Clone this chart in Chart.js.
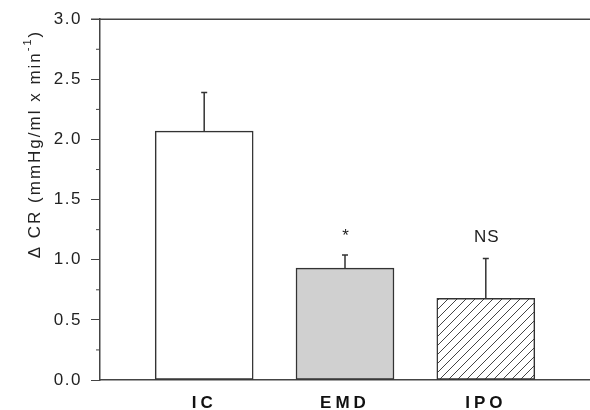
<!DOCTYPE html>
<html>
<head>
<meta charset="utf-8">
<script src="https://cdn.jsdelivr.net/npm/chart.js@4"></script>
<style>
html,body{margin:0;padding:0;background:#fff;}
#wrap{width:590px;height:410px;position:relative;}
</style>
</head>
<body>
<div id="wrap"><canvas id="c" width="590" height="410"></canvas></div>
<script>
const categories = ['IC', 'EMD', 'IPO'];
const means = [2.07, 0.93, 0.68];
const errorsUp = [0.32, 0.11, 0.33];
const marks = ['', '*', 'NS'];
const yTicks = [0, 0.5, 1.0, 1.5, 2.0, 2.5, 3.0];
const yMinorTicks = [0.25, 0.75, 1.25, 1.75, 2.25, 2.75];

const FONT = 'Arial, "Liberation Sans", sans-serif';

function hatch() {
  const s = 9;
  const c = document.createElement('canvas');
  c.width = s; c.height = s;
  const g = c.getContext('2d');
  g.fillStyle = '#fff'; g.fillRect(0, 0, s, s);
  g.strokeStyle = '#444'; g.lineWidth = 1;
  g.beginPath();
  g.moveTo(-1, s + 1); g.lineTo(s + 1, -1);
  g.moveTo(-1 - s, s + 1); g.lineTo(1, -1);
  g.moveTo(s - 1, 2 * s + 1); g.lineTo(2 * s + 1, s - 1);
  g.stroke();
  return document.getElementById('c').getContext('2d').createPattern(c, 'repeat');
}

const fills = ['#ffffff', '#d0d0d0', hatch()];

const extras = {
  id: 'extras',
  beforeDraw(chart) {
    chart.ctx.letterSpacing = '1.5px';
  },
  afterDatasetsDraw(chart) {
    const ctx = chart.ctx;
    const xs = chart.scales.x, ys = chart.scales.y;
    const area = chart.chartArea;
    ctx.save();
    ctx.letterSpacing = '1px';
    // top frame line
    ctx.strokeStyle = '#444'; ctx.lineWidth = 1.5;
    ctx.beginPath(); ctx.moveTo(area.left - 9, area.top); ctx.lineTo(area.right, area.top); ctx.stroke();
    // minor ticks
    ctx.lineWidth = 1;
    yMinorTicks.forEach(v => {
      const y = ys.getPixelForValue(v);
      ctx.beginPath(); ctx.moveTo(area.left - 4, y); ctx.lineTo(area.left, y); ctx.stroke();
    });
    // error bars and marks
    ctx.strokeStyle = '#333'; ctx.lineWidth = 1.5;
    means.forEach((m, i) => {
      const x = xs.getPixelForValue(i + 1);
      const y0 = ys.getPixelForValue(m);
      const y1 = ys.getPixelForValue(m + errorsUp[i]);
      ctx.beginPath();
      ctx.moveTo(x, y0); ctx.lineTo(x, y1);
      ctx.moveTo(x - 3, y1); ctx.lineTo(x + 3, y1);
      ctx.stroke();
      if (marks[i]) {
        ctx.fillStyle = '#222';
        ctx.font = '17px ' + FONT;
        ctx.textAlign = 'center'; ctx.textBaseline = 'middle';
        ctx.fillText(marks[i], x + 1, y1 - (marks[i] === '*' ? 19 : 21));
      }
    });
    // y axis title
    ctx.letterSpacing = '2px';
    ctx.translate(35, 144);
    ctx.rotate(-Math.PI / 2);
    ctx.fillStyle = '#222';
    const main = 'Δ CR (mmHg/ml x min';
    ctx.font = '17px ' + FONT;
    const w1 = ctx.measureText(main).width;
    ctx.font = '11px ' + FONT;
    const w2 = ctx.measureText('-1').width;
    ctx.font = '17px ' + FONT;
    const w3 = ctx.measureText(')').width;
    let sx = -(w1 + w2 + w3) / 2;
    ctx.textAlign = 'left'; ctx.textBaseline = 'middle';
    ctx.fillText(main, sx, 0);
    ctx.font = '11px ' + FONT;
    ctx.fillText('-1', sx + w1, -7);
    ctx.font = '17px ' + FONT;
    ctx.fillText(')', sx + w1 + w2, 0);
    ctx.restore();
    // spacing for the category labels drawn after this hook
    ctx.letterSpacing = '4px';
  },
  afterDraw(chart) {
    chart.ctx.letterSpacing = '0px';
  }
};

new Chart(document.getElementById('c'), {
  type: 'bar',
  data: {
    datasets: [{
      data: means.map((v, i) => ({ x: i + 1, y: v })),
      backgroundColor: fills,
      borderColor: '#333',
      borderWidth: 1.5,
      borderSkipped: false,
      barThickness: 98
    }]
  },
  options: {
    responsive: false,
    animation: false,
    devicePixelRatio: 1,
    layout: { padding: { top: 18, right: 0, left: 0, bottom: 0 } },
    plugins: { legend: { display: false }, tooltip: { enabled: false } },
    scales: {
      x: {
        type: 'linear',
        offset: false,
        min: 0.26, max: 3.74,
        afterBuildTicks: s => { s.ticks = categories.map((c, i) => ({ value: i + 1 })); },
        afterFit: s => { s.height = 30; },
        grid: { display: false },
        border: { display: true, color: '#444', width: 1.5 },
        ticks: {
          z: 1,
          callback: v => categories[v - 1] || '',
          font: { family: FONT, size: 17, weight: 'bold' },
          color: '#111',
          padding: 5,
          maxRotation: 0,
          autoSkip: false
        }
      },
      y: {
        min: 0, max: 3,
        afterBuildTicks: s => { s.ticks = yTicks.map(v => ({ value: v })); },
        afterFit: s => { s.width = 100; },
        grid: { display: true, drawOnChartArea: false, drawTicks: true, tickLength: 9, color: '#444', lineWidth: 1 },
        border: { display: true, color: '#444', width: 1.5 },
        ticks: {
          callback: v => v.toFixed(1),
          font: { family: FONT, size: 17 },
          color: '#222',
          padding: 9
        }
      }
    }
  },
  plugins: [extras]
});
</script>
</body>
</html>
